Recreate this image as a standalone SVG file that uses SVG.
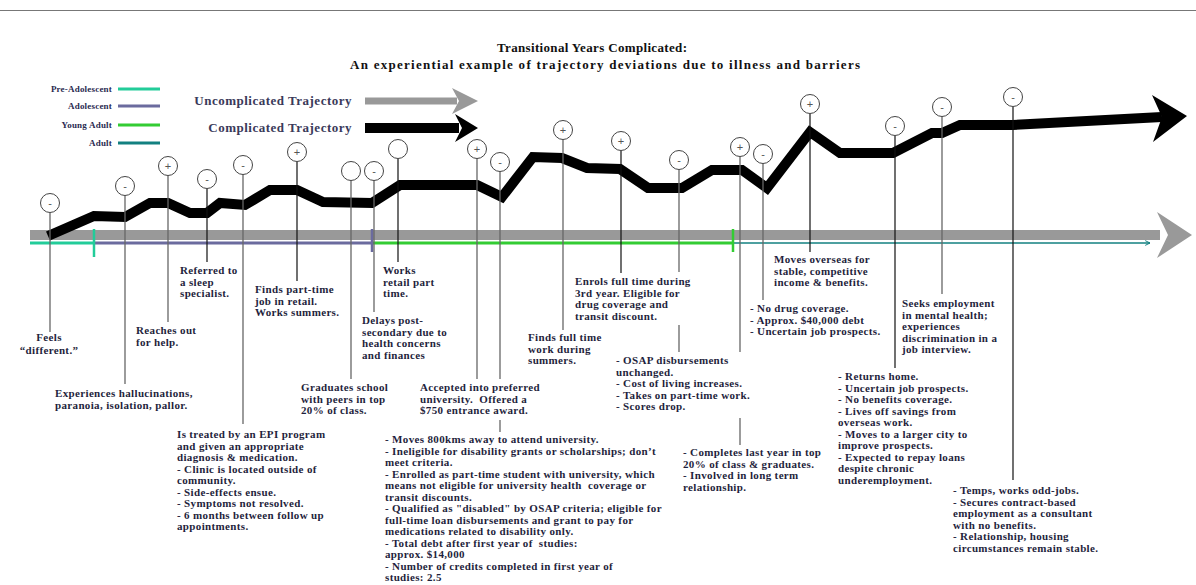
<svg xmlns="http://www.w3.org/2000/svg" width="1196" height="585" viewBox="0 0 1196 585">
<style>
.lb{font-family:"Liberation Serif","DejaVu Serif",serif;font-weight:bold;font-size:11px;letter-spacing:0.35px;fill:#1f1f3d}
.lg{font-family:"Liberation Serif","DejaVu Serif",serif;font-weight:bold;font-size:9px;letter-spacing:0.2px;fill:#2a2a50;text-anchor:end}
.lt{font-family:"Liberation Serif","DejaVu Serif",serif;font-weight:bold;font-size:13px;letter-spacing:0.5px;fill:#3a3a5a;text-anchor:end}
.tt{font-family:"Liberation Serif","DejaVu Serif",serif;font-weight:bold;font-size:13px;fill:#111}
.pc{fill:#fff;stroke:#444;stroke-width:1}
.sy{font-family:"Liberation Sans",sans-serif;font-size:11px;fill:#555;text-anchor:middle}
.pg{stroke:#666;stroke-width:1.3}
.pb{stroke:#111;stroke-width:1.2}
.pre{white-space:pre}
</style>
<defs>
<marker id="ah" viewBox="0 0 10 10" refX="9" refY="5" markerWidth="6" markerHeight="6" orient="auto" markerUnits="userSpaceOnUse">
<path d="M1,1 L9,5 L1,9" fill="none" stroke="#128080" stroke-width="1.6"/>
</marker>
</defs>
<rect width="1196" height="585" fill="#fff"/>
<line x1="0" y1="10.5" x2="1196" y2="10.5" stroke="#777" stroke-width="1"/>

<g id="title">
<text class="tt" x="497" y="52" textLength="190" lengthAdjust="spacing">Transitional Years Complicated:</text>
<text class="tt" x="350" y="69" textLength="510" lengthAdjust="spacing">An experiential example of trajectory deviations due to illness and barriers</text>
</g>

<g id="legend">
<text class="lg" x="112" y="92">Pre-Adolescent</text>
<line x1="118" y1="89" x2="160" y2="89" stroke="#22cc99" stroke-width="3"/>
<text class="lg" x="112" y="109">Adolescent</text>
<line x1="118" y1="106" x2="160" y2="106" stroke="#6b6b9e" stroke-width="3"/>
<text class="lg" x="112" y="128">Young Adult</text>
<line x1="118" y1="125" x2="160" y2="125" stroke="#33cc33" stroke-width="3"/>
<text class="lg" x="112" y="146">Adult</text>
<line x1="118" y1="143" x2="160" y2="143" stroke="#128080" stroke-width="3"/>
<text class="lt" x="352" y="105">Uncomplicated Trajectory</text>
<rect x="365" y="97.5" width="92" height="7" fill="#999"/>
<polygon points="452,88 478,101 452,114 459,101" fill="#999"/>
<text class="lt" x="352" y="132">Complicated Trajectory</text>
<rect x="365" y="123" width="94" height="10" fill="#000"/>
<polygon points="455,114 478,128 455,142 462,128" fill="#000"/>
</g>

<g id="connectors">
<rect x="30" y="230" width="1130" height="10" fill="#999"/>
<polygon points="1157,212 1192,235 1157,258 1168,235" fill="#999"/>
<line x1="30" y1="243" x2="94" y2="243" stroke="#22cc99" stroke-width="3"/>
<line x1="94" y1="243" x2="372" y2="243" stroke="#6b6b9e" stroke-width="3"/>
<line x1="372" y1="243" x2="733" y2="243" stroke="#33cc33" stroke-width="3"/>
<line x1="733" y1="243" x2="1150" y2="243" stroke="#128080" stroke-width="1.5" marker-end="url(#ah)"/>
<line x1="94" y1="229" x2="94" y2="257" stroke="#22cc99" stroke-width="2.5"/>
<line x1="372" y1="229" x2="372" y2="252" stroke="#6b6b9e" stroke-width="2.5"/>
<line x1="733" y1="229" x2="733" y2="252" stroke="#33cc33" stroke-width="2.5"/>
<polyline points="48,236 94,216 125,217 150,203 168,203 190,213 207,213 220,203 245,205 270,190 297,190 323,202 372,203 400,185 477,185 502,197 533,157 562,158 587,168 620,169 648,188 682,188 712,170 742,170 767,188 810,132 840,153 893,153 932,133 942,133 960,125 1013,125 1162,117" fill="none" stroke="#000" stroke-width="10" stroke-linejoin="miter" stroke-miterlimit="2"/>
<polygon points="1152,95 1187,116 1153,142 1162,117" fill="#000"/>
</g>

<g id="e1"><line class="pg" x1="50" y1="212.5" x2="50" y2="332"/><circle class="pc" cx="50" cy="203" r="9.5"/><text class="sy" x="50" y="206.5">-</text>
<text class="lb" text-anchor="middle"><tspan x="49" y="341">Feels</tspan><tspan x="49" y="353.5">“different.”</tspan></text></g>

<g id="e2"><line class="pg" x1="125" y1="195.5" x2="125" y2="384"/><circle class="pc" cx="125" cy="186" r="9.5"/><text class="sy" x="125" y="189.5">-</text>
<text class="lb"><tspan x="55" y="397">Experiences hallucinations,</tspan><tspan x="55" y="409">paranoia, isolation, pallor.</tspan></text></g>

<g id="e3"><line class="pg" x1="168" y1="175.5" x2="168" y2="322"/><circle class="pc" cx="168" cy="166" r="9.5"/><text class="sy" x="168" y="170">+</text>
<text class="lb"><tspan x="136" y="334">Reaches out</tspan><tspan x="136" y="346">for help.</tspan></text></g>

<g id="e4"><line class="pb" x1="207" y1="188.5" x2="207" y2="262"/><circle class="pc" cx="207" cy="179" r="9.5"/><text class="sy" x="207" y="182.5">-</text>
<text class="lb"><tspan x="180" y="274">Referred to</tspan><tspan x="180" y="285.5">a sleep</tspan><tspan x="180" y="297">specialist.</tspan></text></g>

<g id="e5"><line class="pg" x1="243" y1="174.5" x2="243" y2="424"/><circle class="pc" cx="243" cy="165" r="9.5"/><text class="sy" x="243" y="168.5">-</text>
<text class="lb"><tspan x="177" y="438">Is treated by an EPI program</tspan><tspan x="177" y="449.5">and given an appropriate</tspan><tspan x="177" y="461">diagnosis &amp; medication.</tspan><tspan x="177" y="472.5">- Clinic is located outside of</tspan><tspan x="177" y="484">community.</tspan><tspan x="177" y="495.5">- Side-effects ensue.</tspan><tspan x="177" y="507">- Symptoms not resolved.</tspan><tspan x="177" y="518.5">- 6 months between follow up</tspan><tspan x="177" y="530">appointments.</tspan></text></g>

<g id="e6"><line class="pb" x1="297" y1="161.5" x2="297" y2="281"/><circle class="pc" cx="297" cy="152" r="9.5"/><text class="sy" x="297" y="156">+</text>
<text class="lb"><tspan x="255" y="293">Finds part-time</tspan><tspan x="255" y="304.5">job in retail.</tspan><tspan x="255" y="316">Works summers.</tspan></text></g>

<g id="e7"><line class="pg" x1="351" y1="180.5" x2="351" y2="379"/><circle class="pc" cx="351" cy="171" r="9.5"/>
<text class="lb"><tspan x="301" y="391">Graduates school</tspan><tspan x="301" y="402.5">with peers in top</tspan><tspan x="301" y="414">20% of class.</tspan></text></g>

<g id="e8"><line class="pg" x1="374" y1="180.5" x2="374" y2="312"/><circle class="pc" cx="374" cy="171" r="9.5"/><text class="sy" x="374" y="174.5">-</text>
<text class="lb"><tspan x="362" y="324">Delays post-</tspan><tspan x="362" y="335.5">secondary due to</tspan><tspan x="362" y="347">health concerns</tspan><tspan x="362" y="358.5">and finances</tspan></text></g>

<g id="e9"><line class="pb" x1="398" y1="158.5" x2="398" y2="262"/><circle class="pc" cx="398" cy="149" r="9.5"/>
<text class="lb"><tspan x="383" y="274">Works</tspan><tspan x="383" y="285.5">retail part</tspan><tspan x="383" y="297">time.</tspan></text></g>

<g id="e10"><line class="pg" x1="477" y1="158.5" x2="477" y2="379"/><circle class="pc" cx="477" cy="149" r="9.5"/><text class="sy" x="477" y="153">+</text>
<text class="lb"><tspan x="420" y="391">Accepted into preferred</tspan><tspan x="420" y="402.5" class="pre">university.  Offered a</tspan><tspan x="420" y="414">$750 entrance award.</tspan></text></g>

<g id="e11"><line class="pg" x1="500" y1="171.5" x2="500" y2="379"/><line class="pg" x1="500" y1="420" x2="500" y2="432"/><circle class="pc" cx="500" cy="162" r="9.5"/><text class="sy" x="500" y="165.5">-</text>
<text class="lb"><tspan x="385" y="443">- Moves 800kms away to attend university.</tspan><tspan x="385" y="454.5">- Ineligible for disability grants or scholarships; don’t</tspan><tspan x="385" y="466">meet criteria.</tspan><tspan x="385" y="477.5">- Enrolled as part-time student with university, which</tspan><tspan x="385" y="489" class="pre">means not eligible for university health  coverage or</tspan><tspan x="385" y="500.5">transit discounts.</tspan><tspan x="385" y="512">- Qualified as "disabled" by OSAP criteria; eligible for</tspan><tspan x="385" y="523.5">full-time loan disbursements and grant to pay for</tspan><tspan x="385" y="535">medications related to disability only.</tspan><tspan x="385" y="546.5" class="pre">- Total debt after first year of  studies:</tspan><tspan x="385" y="558">approx. $14,000</tspan><tspan x="385" y="569.5">- Number of credits completed in first year of</tspan><tspan x="385" y="581">studies: 2.5</tspan></text></g>

<g id="e12"><line class="pg" x1="563" y1="139.5" x2="563" y2="330"/><circle class="pc" cx="563" cy="130" r="9.5"/><text class="sy" x="563" y="134">+</text>
<text class="lb"><tspan x="528" y="341">Finds full time</tspan><tspan x="528" y="352.5">work during</tspan><tspan x="528" y="364">summers.</tspan></text></g>

<g id="e13"><line class="pb" x1="621" y1="150.5" x2="621" y2="273"/><circle class="pc" cx="621" cy="141" r="9.5"/><text class="sy" x="621" y="145">+</text>
<text class="lb"><tspan x="575" y="285">Enrols full time during</tspan><tspan x="575" y="296.5">3rd year. Eligible for</tspan><tspan x="575" y="308">drug coverage and</tspan><tspan x="575" y="319.5">transit discount.</tspan></text></g>

<g id="e14"><line class="pg" x1="679" y1="169.5" x2="679" y2="272"/><line class="pg" x1="679" y1="325" x2="679" y2="352"/><circle class="pc" cx="679" cy="160" r="9.5"/><text class="sy" x="679" y="163.5">-</text>
<text class="lb"><tspan x="616" y="364">- OSAP disbursements</tspan><tspan x="616" y="375.5">unchanged.</tspan><tspan x="616" y="387">- Cost of living increases.</tspan><tspan x="616" y="398.5">- Takes on part-time work.</tspan><tspan x="616" y="410">- Scores drop.</tspan></text></g>

<g id="e15"><line class="pg" x1="740" y1="156.5" x2="740" y2="352"/><line class="pg" x1="740" y1="418" x2="740" y2="445"/><circle class="pc" cx="740" cy="147" r="9.5"/><text class="sy" x="740" y="151">+</text>
<text class="lb"><tspan x="683" y="456">- Completes last year in top</tspan><tspan x="683" y="467.5">20% of class &amp; graduates.</tspan><tspan x="683" y="479">- Involved in long term</tspan><tspan x="683" y="490.5">relationship.</tspan></text></g>

<g id="e16"><line class="pg" x1="763" y1="163.5" x2="763" y2="300"/><circle class="pc" cx="763" cy="154" r="9.5"/><text class="sy" x="763" y="157.5">-</text>
<text class="lb"><tspan x="750" y="312">- No drug coverage.</tspan><tspan x="750" y="323.5">- Approx. $40,000 debt</tspan><tspan x="750" y="335">- Uncertain job prospects.</tspan></text></g>

<g id="e17"><line class="pb" x1="810" y1="113.5" x2="810" y2="252"/><circle class="pc" cx="810" cy="104" r="9.5"/><text class="sy" x="810" y="108">+</text>
<text class="lb"><tspan x="774" y="263">Moves overseas for</tspan><tspan x="774" y="274.5">stable, competitive</tspan><tspan x="774" y="286">income &amp; benefits.</tspan></text></g>

<g id="e18"><line class="pb" x1="895" y1="135.5" x2="895" y2="368"/><circle class="pc" cx="895" cy="126" r="9.5"/><text class="sy" x="895" y="129.5">-</text>
<text class="lb"><tspan x="838" y="380">- Returns home.</tspan><tspan x="838" y="391.5">- Uncertain job prospects.</tspan><tspan x="838" y="403">- No benefits coverage.</tspan><tspan x="838" y="414.5">- Lives off savings from</tspan><tspan x="838" y="426">overseas work.</tspan><tspan x="838" y="437.5">- Moves to a larger city to</tspan><tspan x="838" y="449">improve prospects.</tspan><tspan x="838" y="460.5">- Expected to repay loans</tspan><tspan x="838" y="472">despite chronic</tspan><tspan x="838" y="483.5">underemployment.</tspan></text></g>

<g id="e19"><line class="pg" x1="942" y1="116.5" x2="942" y2="294"/><circle class="pc" cx="942" cy="107" r="9.5"/><text class="sy" x="942" y="110.5">-</text>
<text class="lb"><tspan x="902" y="307">Seeks employment</tspan><tspan x="902" y="318.5">in mental health;</tspan><tspan x="902" y="330">experiences</tspan><tspan x="902" y="341.5">discrimination in a</tspan><tspan x="902" y="353">job interview.</tspan></text></g>

<g id="e20"><line class="pb" x1="1013" y1="106.5" x2="1013" y2="480"/><circle class="pc" cx="1013" cy="97" r="9.5"/><text class="sy" x="1013" y="100.5">-</text>
<text class="lb"><tspan x="953" y="494">- Temps, works odd-jobs.</tspan><tspan x="953" y="505.5">- Secures contract-based</tspan><tspan x="953" y="517">employment as a consultant</tspan><tspan x="953" y="528.5">with no benefits.</tspan><tspan x="953" y="540">- Relationship, housing</tspan><tspan x="953" y="551.5">circumstances remain stable.</tspan></text></g>
</svg>
